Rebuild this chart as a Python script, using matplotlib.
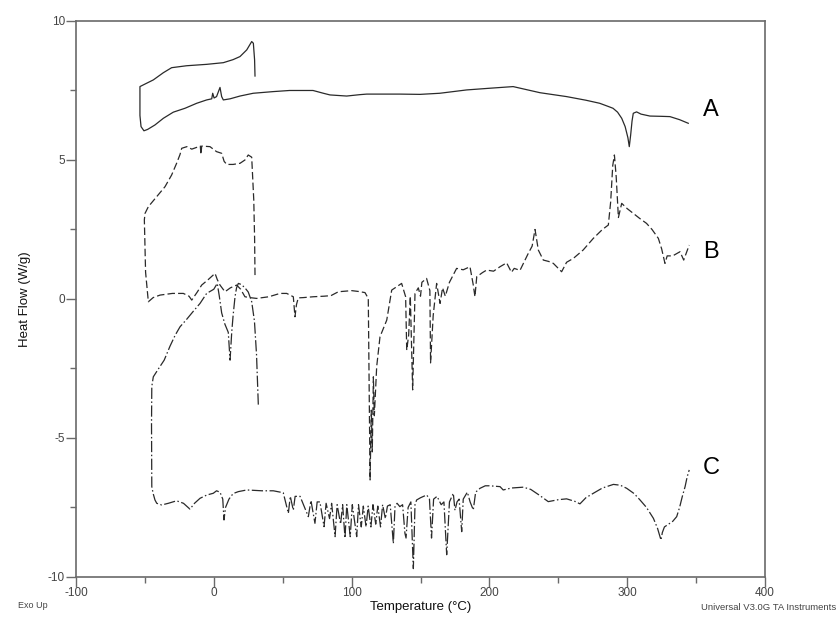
import matplotlib.pyplot as plt

plt.rcParams['font.family'] = ['Liberation Sans', 'DejaVu Sans']
plt.rcParams['axes.unicode_minus'] = False

# Curve A: cooling run then heating run (solid)
temp_a = [29.9, 29.6, 28.7, 27.5, 23.9, 19.0, 14.0, 6.9, -5.2, -19.7, -30.6, -36.6, -43.9,
          -51.2, -53.6, -53.6, -52.8, -50.7, -48.0, -42.7, -36.6, -29.4, -20.9, -12.4, -5.2,
          -1.5, -0.8, 0.2, 2.0, 4.5, 5.7, 6.9, 11.8, 19.0, 28.6, 43.2, 55.0, 72.0, 79.5, 84.3,
          96.4, 106.0, 111.0, 135.0, 149.6, 164.0, 183.5, 200.0, 217.2, 236.7, 256.0, 270.0,
          280.0, 286.0, 289.7, 293.0, 296.0, 298.5, 300.5, 301.5, 302.5, 303.5, 304.4, 306.8,
          310.0, 316.5, 325.0, 331.0, 338.0, 344.3]
flow_a = [8.02, 8.6, 9.2, 9.26, 8.96, 8.72, 8.61, 8.5, 8.44, 8.39, 8.32, 8.14, 7.88,
          7.7, 7.64, 6.6, 6.2, 6.05, 6.1, 6.26, 6.5, 6.72, 6.86, 7.04, 7.16,
          7.2, 7.4, 7.23, 7.28, 7.61, 7.28, 7.16, 7.2, 7.3, 7.4, 7.46, 7.5, 7.5, 7.4, 7.34,
          7.3, 7.35, 7.37, 7.37, 7.36, 7.4, 7.52, 7.58, 7.64, 7.42, 7.28, 7.15,
          7.04, 6.93, 6.86, 6.72, 6.5, 6.2, 5.8, 5.48, 5.9, 6.4, 6.68, 6.73,
          6.65, 6.58, 6.57, 6.56, 6.45, 6.32]

# Curve B (dashed)
temp_b = [29.9, 29.6, 29.0, 27.5, 25.0, 22.6, 19.0, 14.0, 9.4, 7.5, 5.7, 2.0, -2.8, -8.8,
          -9.3, -9.8, -16.0, -19.5, -23.3, -24.5, -27.0, -30.6, -35.4, -41.4, -47.5, -49.9,
          -50.4, -49.5, -47.5, -44.0, -39.0, -30.0, -22.1, -18.0, -16.0, -12.0, -8.8, -4.0,
          0.9, 2.5, 4.5, 8.1, 12.0, 16.6, 19.5, 22.6, 26.0, 31.1, 40.0, 48.0, 52.9, 57.7,
          58.9, 60.0, 61.3, 65.0, 72.2, 80.0, 85.0, 90.4, 100.1, 105.0, 109.7, 112.1, 113.4,
          114.3, 115.0, 115.8, 116.5, 118.2, 120.6, 125.5, 129.1, 136.3, 139.2, 140.0, 141.4,
          142.6, 144.3, 146.0, 148.4, 150.0, 151.0, 154.4, 156.8, 157.3, 159.2, 161.7, 164.2,
          166.0, 168.0, 171.0, 176.2, 181.0, 185.9, 188.3, 189.5, 190.8, 195.0, 198.0, 203.0,
          207.7, 212.5, 216.0, 218.0, 222.2, 228.2, 231.0, 233.1, 235.5, 239.1, 243.0, 246.4,
          249.0, 252.4, 256.0, 260.9, 268.0, 275.4, 282.0, 286.3, 288.0, 289.5, 290.7, 292.0,
          293.6, 296.0, 300.0, 304.4, 309.0, 314.0, 318.0, 322.6, 325.0, 327.4, 329.0, 333.0,
          338.3, 341.0, 345.0]
flow_b = [0.86, 2.2, 3.56, 5.1, 5.18, 5.0, 4.88, 4.84, 4.84, 4.95, 5.24, 5.3, 5.48, 5.5,
          5.2, 5.5, 5.39, 5.48, 5.42, 5.2, 4.88, 4.46, 4.04, 3.68, 3.32, 3.08,
          2.85, 0.96, -0.1, 0.05, 0.14, 0.2, 0.2, 0.1, -0.04, 0.25, 0.5, 0.7,
          0.92, 0.7, 0.5, 0.26, 0.4, 0.5, 0.35, 0.08, 0.05, 0.02, 0.08, 0.2, 0.2, 0.08,
          -0.64, -0.2, 0.04, 0.05, 0.08, 0.1, 0.12, 0.26, 0.3, 0.27, 0.23, 0.02, -6.51,
          -4.0, -5.5, -2.8, -4.2, -2.43, -1.36, -0.76, 0.32, 0.56, 0.08, -1.84, -1.3,
          0.1, -3.27, 0.2, 0.4, 0.1, 0.6, 0.74, 0.3, -2.3, -0.6, 0.56, -0.16,
          0.4, 0.1, 0.6, 1.1, 1.05, 1.16, 0.5, 0.08, 0.8, 0.95, 1.04, 1.0,
          1.16, 1.3, 0.96, 1.1, 1.03, 1.64, 1.9, 2.5, 1.76, 1.4, 1.35, 1.28,
          1.15, 0.98, 1.32, 1.46, 1.76, 2.18, 2.5, 2.66, 3.5, 4.8, 5.18, 4.4,
          2.93, 3.44, 3.25, 3.08, 2.9, 2.72, 2.5, 2.18, 1.8, 1.28, 1.55, 1.55,
          1.7, 1.4, 1.94]

# Curve C (dash-dot)
temp_c = [32.3, 31.0, 29.5, 27.5, 25.0, 22.6, 20.0, 17.8, 16.5, 15.4, 14.0, 13.0, 11.8, 10.5,
          8.0, 5.7, 4.0, 2.5, 0.0, -5.2, -10.0, -15.0, -20.0, -24.5, -28.0, -31.8, -36.0,
          -40.0, -43.9, -45.0, -45.2, -45.0, -44.0, -42.7, -41.4, -37.8, -33.0, -27.0, -22.0,
          -17.3, -14.0, -10.0, -5.0, -0.4, 2.0, 4.5, 6.5, 7.4, 8.5, 11.0, 14.0, 17.8, 23.9,
          35.0, 43.2, 50.4, 54.1, 55.5, 57.7, 59.0, 62.6, 68.6, 70.5, 73.4, 75.0, 77.0, 80.0,
          81.5, 84.0, 85.5, 88.0, 89.5, 92.0, 93.5, 95.2, 96.5, 99.0, 100.5, 103.7, 105.0,
          107.0, 108.5, 110.5, 112.0, 114.0, 115.5, 117.5, 119.0, 121.0, 122.5, 124.5, 126.0,
          128.0, 130.3, 131.5, 133.0, 135.0, 137.0, 138.7, 139.5, 141.0, 143.0, 144.8, 146.0,
          147.2, 150.0, 154.5, 156.5, 158.0, 159.5, 162.0, 165.0, 167.0, 169.0, 171.0, 173.8,
          175.0, 176.5, 178.0, 179.9, 181.0, 184.0, 186.0, 188.3, 190.0, 193.2, 197.0, 200.0,
          207.7, 210.0, 216.0, 224.6, 230.0, 236.0, 242.7, 250.0, 256.0, 262.0, 265.7, 270.0,
          275.4, 282.0, 290.0, 295.0, 299.6, 305.0, 309.3, 314.0, 319.0, 322.0, 324.5, 325.5,
          327.0, 330.0, 333.0, 335.9, 338.0, 340.0, 342.0, 343.5, 345.0]
flow_c = [-3.8, -2.0, -0.8, -0.1, 0.25, 0.4, 0.52, 0.56, 0.4, 0.08, -0.6, -1.2, -2.2, -1.2,
          -0.9, -0.5, 0.1, 0.56, 0.35, 0.2, -0.16, -0.45, -0.75, -1.0, -1.3, -1.7, -2.2,
          -2.5, -2.8, -3.15, -4.5, -6.75, -7.0, -7.23, -7.35, -7.41, -7.35, -7.26, -7.35,
          -7.56, -7.35, -7.17, -7.05, -6.99, -6.9, -6.95, -7.2, -7.95, -7.5, -7.2, -7.0, -6.93, -6.87,
          -6.9, -6.9, -6.97, -7.71, -7.1, -7.6, -7.1, -7.1, -7.83, -7.25, -8.07, -7.3, -7.3, -8.19,
          -7.35, -7.9, -7.35, -8.55, -7.4, -8.1, -7.4, -8.6, -7.4, -8.55, -7.4, -8.55, -7.4,
          -8.2, -7.45, -8.2, -7.45, -8.2, -7.4, -8.1, -7.45, -8.2, -7.4, -7.9, -7.45,
          -7.4, -8.8, -7.45, -7.35, -7.47, -7.4, -8.43, -8.6, -7.5, -7.3, -9.7, -7.4,
          -7.23, -7.15, -7.05, -7.2, -8.6, -7.2, -7.1, -7.4, -7.3, -9.2, -7.3, -6.99,
          -7.6, -7.3, -7.2, -8.37, -7.2, -6.95, -7.3, -7.59, -6.95, -6.81, -6.72, -6.72,
          -6.75, -6.87, -6.8, -6.77, -6.85, -7.05, -7.29, -7.22, -7.19, -7.28, -7.37, -7.15,
          -6.99, -6.8, -6.67, -6.7, -6.81, -7.0, -7.23, -7.5, -7.89, -8.25, -8.67, -8.4,
          -8.2, -8.1, -8.0, -7.83, -7.5, -7.1, -6.75, -6.4, -6.15]

curve_names = ["A", "B", "C"]
name_flow = [6.8, 1.69, -6.08]

x_major = [-100, 0, 100, 200, 300, 400]
y_major = [-10, -5, 0, 5, 10]

line_color = "#2a2a2a"
axis_color = "#6a6a6a"

fig = plt.figure(figsize=(8.37, 6.19), dpi=100)
ax = fig.add_axes([0.0908, 0.0679, 0.8232, 0.8982])

ax.plot(temp_a, flow_a, color=line_color, lw=0.9, ls="-")
ax.plot(temp_b, flow_b, color=line_color, lw=0.9, ls=(0, (6, 2.5)))
ax.plot(temp_c, flow_c, color=line_color, lw=0.9, ls=(0, (9, 2, 1.2, 2)))

for name, y in zip(curve_names, name_flow):
    ax.text(360.8, y, name, fontsize=17, ha="center", va="center", color="black")

ax.set_xlim(-100, 400)
ax.set_ylim(-10, 10)
ax.set_xticks(x_major)
ax.set_yticks(y_major)
ax.set_xticks([-50, 50, 150, 250, 350], minor=True)
ax.set_yticks([-7.5, -2.5, 2.5, 7.5], minor=True)
ax.tick_params(which="both", direction="out", color=axis_color, width=1.0,
               labelsize=8.5, labelcolor="#444444")
ax.tick_params(which="major", length=7, pad=1)
ax.tick_params(axis="x", which="major", pad=0)
ax.tick_params(which="minor", length=4)
for sp in ax.spines.values():
    sp.set_color(axis_color)
    sp.set_linewidth(1.2)

ax.set_xlabel("Temperature (°C)", fontsize=9.5, color="#111111", labelpad=2)
ax.set_ylabel("Heat Flow (W/g)", fontsize=9.5, color="#111111", labelpad=12)

fig.text(0.022, 0.022, "Exo Up", fontsize=6.5, color="#444444", ha="left", va="center")
fig.text(0.999, 0.019, "Universal V3.0G TA Instruments", fontsize=6.8, color="#444444",
         ha="right", va="center")

fig.savefig("out.png", dpi=100)
